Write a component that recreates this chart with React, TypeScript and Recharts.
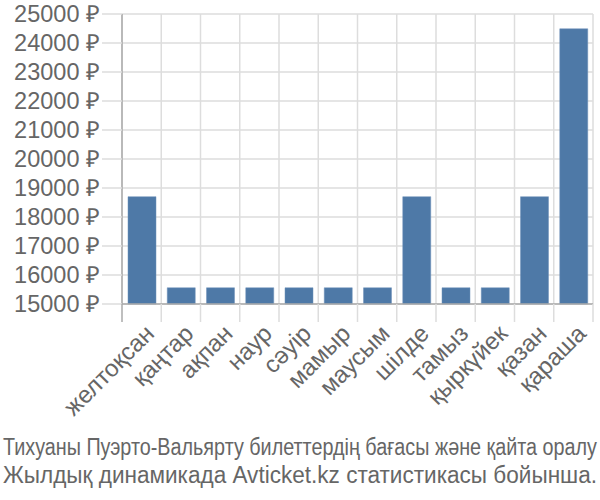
import React from 'react'
import { BarChart, Bar, XAxis, YAxis, CartesianGrid } from 'recharts'

const months = ['желтоқсан', 'қаңтар', 'ақпан', 'наур', 'сәуір', 'мамыр', 'маусым', 'шілде', 'тамыз', 'қыркүйек', 'қазан', 'қараша']
const prices = [18700, 15560, 15560, 15560, 15560, 15560, 15560, 18700, 15560, 15560, 18700, 24490]
const yTicks = [15000, 16000, 17000, 18000, 19000, 20000, 21000, 22000, 23000, 24000, 25000]
const titleLines = [
  'Тихуаны Пуэрто-Вальярту билеттердің бағасы және қайта оралу',
  'Жылдық динамикада Avticket.kz статистикасы бойынша.',
]

const data = months.map((m, i) => ({ month: m, price: prices[i] }))

const W = 600
const H = 500
const LEFT = 122
const RIGHT = 7
const TOP = 14
const BOTTOM_AREA = 196
const FONT = '"Liberation Sans", Arial, sans-serif'
const TEXT = '#666'
const GRID = '#dddddd'
const AXIS = '#aaaaaa'
const TICK = 18

const band = (W - LEFT - RIGHT) / months.length

// tick line sits on the band edge, label is rotated and hangs from the band centre
const XTick = (props: any) => {
  const { x, y, payload, index } = props
  const top = y - TICK - 2
  const lx = x - band / 2
  const ax = x + 2
  const ay = y - 1
  return (
    <g>
      <line x1={lx} x2={lx} y1={top} y2={top + TICK} stroke={index === 0 ? AXIS : GRID} strokeWidth={1.5} />
      {index === months.length - 1 && (
        <line x1={lx + band} x2={lx + band} y1={top} y2={top + TICK} stroke={GRID} strokeWidth={1.5} />
      )}
      <text
        x={ax}
        y={ay}
        dy="0.71em"
        textAnchor="end"
        transform={`rotate(-45, ${ax}, ${ay})`}
        fill={TEXT}
        fontSize={24}
        fontFamily={FONT}
      >
        {payload.value}
      </text>
    </g>
  )
}

export default function App() {
  const verticals = ({ offset }: any) =>
    months.map((_, i) => offset.left + i * (offset.width / months.length)).concat([offset.left + offset.width])

  return (
    <div style={{ position: 'absolute', left: 0, top: 0, width: W, height: H, background: '#fff' }}>
      <BarChart width={W} height={H} data={data} margin={{ top: TOP, right: RIGHT, left: 0, bottom: 0 }}>
        <CartesianGrid stroke={GRID} strokeWidth={1.5} verticalCoordinatesGenerator={verticals} />
        <XAxis
          dataKey="month"
          height={BOTTOM_AREA}
          interval={0}
          tickLine={false}
          tickSize={TICK}
          tickMargin={2}
          stroke={AXIS}
          strokeWidth={1.5}
          tick={<XTick />}
        />
        <YAxis
          type="number"
          domain={[15000, 25000]}
          ticks={yTicks}
          interval={0}
          width={LEFT}
          tickSize={20}
          tickMargin={2}
          tickLine={{ stroke: GRID, strokeWidth: 1.5 }}
          axisLine={{ stroke: AXIS, strokeWidth: 1.5 }}
          tickFormatter={(v: number) => `${v} ₽`}
          tick={{ fill: TEXT, fontSize: 23.5, fontFamily: FONT }}
        />
        <Bar dataKey="price" fill="#4e79a7" stroke="#6f91b8" strokeWidth={0.5} barSize={28} isAnimationActive={false} />
      </BarChart>
      <svg width={W} height={H} style={{ position: 'absolute', left: 0, top: 0, pointerEvents: 'none' }}>
        {titleLines.map((t, i) => (
          <text
            key={i}
            x={3}
            y={455 + i * 28}
            textLength={594}
            lengthAdjust="spacingAndGlyphs"
            fill={TEXT}
            fontSize={23}
            fontFamily={FONT}
          >
            {t}
          </text>
        ))}
      </svg>
    </div>
  )
}
